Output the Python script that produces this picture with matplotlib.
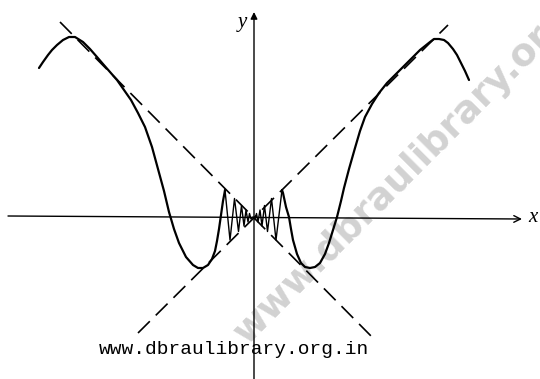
import numpy as np
import matplotlib
matplotlib.use('Agg')
import matplotlib.pyplot as plt

# curve (graph units, origin at the crossing of the axes)
left_x = [-214, -210, -205, -201, -196, -190, -184, -178, -170, -163, -156,
          -150, -143, -136, -129, -122, -115, -108, -101, -95, -89, -84, -79,
          -74, -67, -60, -55, -50, -45, -41, -38, -36, -34, -32, -30, -28.5, -28]
left_y = [149, 155, 162, 167, 172, 177, 180, 180, 175, 168, 160,
          153, 145, 137, 127, 117, 104, 90, 70, 48, 26, 5, -12,
          -26, -40, -48, -51, -51, -48, -42, -34, -24, -12, 2, 16, 24, 27]

right_x = [29, 30, 33, 36, 38, 40, 44, 48, 52, 57, 62, 67, 72, 76, 80, 84, 88,
           91, 96, 102, 107, 112, 119, 126, 134, 143, 151, 160, 167, 172, 177,
           181, 186, 191, 195, 200, 204, 208, 212, 216]
right_y = [27, 24, 10, 0, -12, -23, -37, -46, -50, -51, -50, -46, -37, -26, -13, 0, 16,
           29, 48, 69, 86, 100, 113, 124, 134, 143, 151, 160, 167, 171, 175,
           178, 178, 177, 174, 168, 162, 154, 146, 137]

# peaks of the fast wiggles near the origin (right half, x going down to 0)
osc_x = [23, 18.5, 14.5, 11.5, 9, 7, 5, 3.5, 2, 0]
osc_y = [-23, 18.5, -14.5, 11.5, -9, 7, -5, 3.5, -2, 0]

# dashed lines y = -x and y = x
line1_x = [-193, 120]
line1_y = [195, -121]
line2_x = [-115, 195]
line2_y = [-116, 192]

url_text = 'www.dbraulibrary.org.in'
mark_text = 'www.dbraulibrary.org'


fig = plt.figure(figsize=(5.4, 3.79), dpi=100)
ax = fig.add_axes([0, 0, 1, 1])
ax.set_xlim(-253, 287)
ax.set_ylim(-162, 217)
ax.axis('off')

# grey watermark in the background
ax.text(150, 42, mark_text, rotation=45, fontsize=27, fontweight='bold',
        color='#d2d2d2', ha='center', va='center', family='DejaVu Sans',
        rotation_mode='anchor', zorder=0)

# axes
ax.annotate('', xy=(269, -2), xytext=(-245, 1),
            arrowprops=dict(arrowstyle='->', lw=1.0, color='black',
                            shrinkA=0, shrinkB=0, mutation_scale=12))
ax.annotate('', xy=(1, 205), xytext=(1, -162),
            arrowprops=dict(arrowstyle='-|>', lw=1.0, color='black',
                            shrinkA=0, shrinkB=0, mutation_scale=10))
ax.text(-11, 195, 'y', fontsize=15, style='italic', family='Liberation Serif',
        ha='center', va='center')
ax.text(280, -1, 'x', fontsize=15, style='italic', family='Liberation Serif',
        ha='center', va='center')

ax.plot(line1_x, line1_y, color='black', lw=1.2, dashes=(10, 5))
ax.plot(line2_x, line2_y, color='black', lw=1.2, dashes=(10, 5))

# outer branches
ax.plot(left_x, left_y, color='black', lw=1.6, solid_joinstyle='round',
        solid_capstyle='round')
ax.plot(right_x, right_y, color='black', lw=1.6, solid_joinstyle='round',
        solid_capstyle='round')

# wiggles around the origin, drawn thinner
ox = np.array(osc_x)
oy = np.array(osc_y)
mid_x = np.concatenate([[left_x[-1]], -ox, ox[::-1], [right_x[0]]])
mid_y = np.concatenate([[left_y[-1]], oy, oy[::-1], [right_y[0]]])
ax.plot(mid_x, mid_y, color='black', lw=1.0, solid_joinstyle='round')

ax.text(-19, -133, url_text, fontsize=14, family='Liberation Mono',
        ha='center', va='center')

fig.savefig('out.png', dpi=100)
